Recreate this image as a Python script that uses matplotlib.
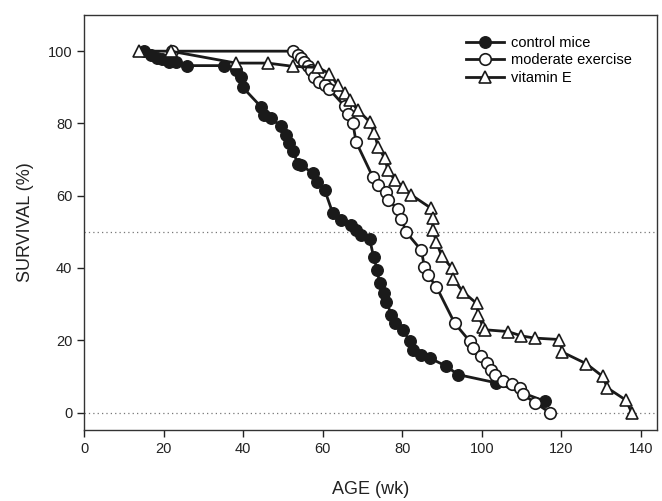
import matplotlib
matplotlib.use("Agg")
import matplotlib.pyplot as plt

plt.rcParams['font.family'] = ['Liberation Sans', 'DejaVu Sans']

# control mice (filled circles)
ctrl_age = [15.1, 16.8, 18.4, 19.6, 21.4, 23.1, 25.9, 35.3, 38.2, 39.5, 39.9,
            44.5, 45.3, 47.0, 49.5, 50.8, 51.6, 52.5, 53.7, 54.6, 57.5, 58.6,
            60.5, 62.5, 64.7, 67.2, 68.4, 69.7, 71.8, 72.8, 73.7, 74.3, 75.3,
            76.0, 77.3, 78.1, 80.2, 81.9, 82.7, 84.8, 86.9, 91.1, 94.0, 103.7,
            115.9]
ctrl_surv = [100, 98.9, 98.0, 97.8, 97.0, 96.9, 96.0, 96.0, 94.8, 92.9, 90.0,
             84.6, 82.3, 81.4, 79.3, 76.8, 74.5, 72.5, 68.9, 68.5, 66.2, 63.9,
             61.6, 55.3, 53.3, 52.0, 50.6, 49.2, 48.1, 43.1, 39.5, 35.8, 33.0,
             30.7, 27.0, 24.7, 22.9, 19.7, 17.4, 16.0, 15.1, 12.8, 10.5, 8.2,
             3.1]

# moderate exercise (open circles)
ex_age = [22.2, 52.5, 53.7, 54.6, 55.4, 56.2, 57.1, 57.9, 59.2, 60.5, 61.7,
          65.5, 66.3, 67.6, 68.4, 72.6, 73.9, 76.0, 76.4, 78.9, 79.8, 81.0,
          84.8, 85.6, 86.5, 88.6, 93.2, 97.0, 97.8, 99.9, 101.2, 102.4, 103.3,
          105.4, 107.5, 109.6, 110.4, 113.4, 117.1]
ex_surv = [100, 100, 99.0, 98.0, 97.0, 95.9, 94.8, 92.9, 91.5, 90.6, 89.4,
           84.8, 82.7, 80.0, 74.9, 65.2, 62.9, 61.0, 58.7, 56.4, 53.6, 49.9,
           44.9, 40.3, 38.0, 34.8, 24.7, 19.7, 17.9, 15.6, 13.8, 11.9, 10.5,
           8.7, 7.8, 6.9, 5.0, 2.7, 0.0]

# vitamin E (open triangles)
vit_age = [13.9, 21.8, 38.2, 46.2, 52.5, 58.8, 61.7, 63.8, 65.5, 66.8, 68.8,
           71.8, 73.0, 73.9, 75.6, 76.4, 78.1, 80.2, 82.3, 87.3, 87.7, 87.7,
           88.6, 89.9, 92.4, 92.9, 95.3, 98.7, 99.1, 100.3, 100.8, 106.6,
           110.0, 113.3, 119.5, 120.3, 126.3, 130.4, 131.6, 136.3, 137.7]
vit_surv = [100, 100, 96.7, 96.7, 95.8, 95.5, 93.8, 90.6, 88.4, 86.5, 83.7,
            80.5, 77.3, 73.6, 70.4, 67.1, 64.4, 62.5, 60.2, 56.5, 53.7, 50.5,
            47.2, 43.4, 40.1, 36.9, 33.4, 30.2, 27.0, 23.8, 22.9, 22.4,
            21.2, 20.6, 20.2, 16.7, 13.5, 10.0, 6.8, 3.4, 0.0]

fig = plt.figure(figsize=(6.62, 5.01), dpi=100)
ax = fig.add_axes([0.127, 0.142, 0.865, 0.828])

# reference lines
ax.axhline(50, color='#777777', lw=0.9, ls=(0, (1, 2.5)), zorder=0)
ax.axhline(0, color='#777777', lw=0.9, ls=(0, (1, 2.5)), zorder=0)

ax.plot(ctrl_age, ctrl_surv, '-o', color='#1a1a1a', lw=2.0, ms=8.3,
        mfc='#1a1a1a', mec='#1a1a1a', label='control mice', zorder=2)
ax.plot(ex_age, ex_surv, '-o', color='#1a1a1a', lw=2.0, ms=8.3,
        mfc='white', mec='#1a1a1a', mew=1.2, label='moderate exercise', zorder=3)
ax.plot(vit_age, vit_surv, '-^', color='#1a1a1a', lw=2.0, ms=9.3,
        mfc='white', mec='#1a1a1a', mew=1.2, label='vitamin E', zorder=4)

ax.set_xlim(0, 144)
ax.set_ylim(-4.8, 110)
ax.set_xticks(range(0, 141, 20))
ax.set_yticks(range(0, 101, 20))
ax.tick_params(direction='out', length=5, width=1, labelsize=10.5,
               colors='#222222')
for s in ax.spines.values():
    s.set_color('#333333')
    s.set_linewidth(1)

ax.set_xlabel('AGE (wk)', fontsize=13, labelpad=18, color='#222222')
ax.set_ylabel('SURVIVAL (%)', fontsize=13, labelpad=10, color='#222222')

ax.legend(loc='upper right', bbox_to_anchor=(0.975, 0.975), frameon=False,
          fontsize=10.5, handlelength=2.6, labelspacing=0.25,
          handletextpad=0.5, borderaxespad=0.3)

fig.savefig('out.png', dpi=100)
